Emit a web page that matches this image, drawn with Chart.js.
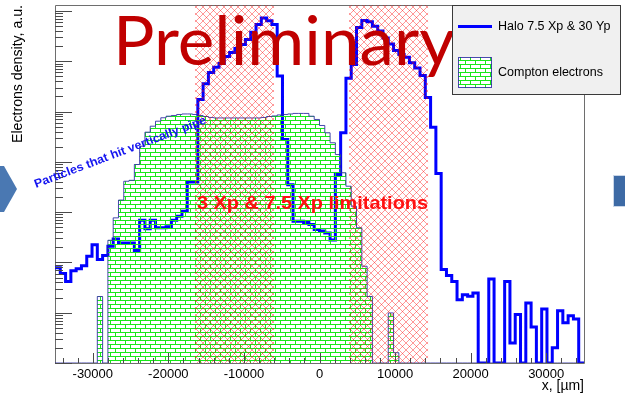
<!DOCTYPE html>
<html>
<head>
<meta charset="utf-8">
<script src="https://cdn.jsdelivr.net/npm/chart.js@4/dist/chart.umd.min.js"></script>
<style>
  html, body { margin: 0; padding: 0; background: #ffffff; }
  #wrap { position: relative; width: 625px; height: 395px; }
</style>
</head>
<body>
<div id="wrap"><canvas id="c" width="625" height="395"></canvas></div>
<script>
// Histogram definition: 100 bins of 700 um between -35000 and 35000 um
const histRange = [-35000, 35000];

// Halo 7.5 Xp & 30 Yp, electrons per bin (a.u.)
const haloCounts = [
  78, 60, 42, 68, 75, 86, 133, 226, 114, 137,
  210, 294, 245, 245, 245, 172, 690, 470, 690, 490,
  490, 510, 690, 830, 1040, 4000, 4000, 175000, 360000, 600000,
  760000, 910000, 1250000, 1500000, 1800000, 2170000, 2730000, 3770000, 5400000, 7300000,
  6400000, 5400000, 510000, 28000, 3500, 660, 660, 620, 567, 451,
  421, 387, 279, 5600, 38000, 460000, 870000, 4700000, 6500000, 6100000,
  5000000, 4000000, 2900000, 2200000, 1650000, 1370000, 1200000, 940000, 740000, 520000,
  190000, 49000, 5900, 72, 55, 42, 18.2, 22.9, 21.2, 24.8,
  0, 0, 47, 0, 0, 41.6, 2.5, 9.2, 0, 15.6,
  5.2, 0, 11.9, 0, 2.0, 11, 6.3, 8.7, 7.5, 0
];

// Compton electrons per bin (a.u.)
const comptonCounts = [
  0, 0, 0, 0, 0, 0, 0, 0, 21, 0,
  276, 771, 1740, 4120, 4300, 8870, 20500, 39000, 51300, 64500,
  75500, 81100, 83800, 87700, 89800, 89800, 87700, 83800, 80000, 76500,
  74800, 74800, 74800, 74800, 74800, 74800, 74800, 74800, 74800, 76500,
  80000, 82000, 86000, 87700, 89800, 92000, 92000, 92000, 81000, 69800,
  53000, 37900, 24000, 14000, 6070, 3280, 1310, 490, 84, 21,
  0, 0, 0, 9.9, 1.6, 0, 0, 0, 0, 0,
  0, 0, 0, 0, 0, 0, 0, 0, 0, 0,
  0, 0, 0, 0, 0, 0, 0, 0, 0, 0,
  0, 0, 0, 0, 0, 0, 0, 0, 0, 0
];

// Aperture limitation bands (um)
const limitStart = [-16500, 3900];
const limitEnd = [-6000, 14400];

// Axis settings
const xTickLabels = [-30000, -20000, -10000, 0, 10000, 20000, 30000];
const xMinorStep = 2000;
const yRange = [1, 1.32e7];

const legendLabels = ['Halo 7.5 Xp & 30 Yp', 'Compton electrons'];

// ---------- fill patterns ----------
function brickPattern(ctx) {
  const t = document.createElement('canvas');
  t.width = 10; t.height = 8;
  const g = t.getContext('2d');
  g.strokeStyle = '#18e818';
  g.lineWidth = 1;
  g.beginPath();
  g.moveTo(0, 0.5); g.lineTo(10, 0.5);
  g.moveTo(0, 4.5); g.lineTo(10, 4.5);
  g.moveTo(0.5, 0); g.lineTo(0.5, 4.5);
  g.moveTo(5.5, 4.5); g.lineTo(5.5, 8);
  g.stroke();
  return ctx.createPattern(t, 'repeat');
}

function hatchPattern(ctx) {
  const t = document.createElement('canvas');
  t.width = 7; t.height = 7;
  const g = t.getContext('2d');
  g.strokeStyle = 'rgba(255,0,0,0.5)';
  g.lineWidth = 0.8;
  g.beginPath();
  g.moveTo(-1, -1); g.lineTo(8, 8);
  g.moveTo(-1, 8); g.lineTo(8, -1);
  g.stroke();
  return ctx.createPattern(t, 'repeat');
}

// histogram bins -> step points at the low edge of every bin
function stepPoints(counts) {
  const w = (histRange[1] - histRange[0]) / counts.length;
  const pts = counts.map((v, i) => ({ x: histRange[0] + i * w, y: Math.max(v, yRange[0]) }));
  pts.push({ x: histRange[1], y: pts[pts.length - 1].y });
  return pts;
}

const canvas = document.getElementById('c');
const ctx2d = canvas.getContext('2d');
const bricks = brickPattern(ctx2d);
const hatch = hatchPattern(ctx2d);

const bandSets = limitStart.map((s, i) => ({
  label: 'limit' + i,
  data: [{ x: s, y: yRange[1] }, { x: limitEnd[i], y: yRange[1] }],
  borderWidth: 0,
  borderColor: 'rgba(0,0,0,0)',
  backgroundColor: hatch,
  fill: 'start',
  pointRadius: 0,
  order: 0
}));

// text fitted to a given width
function fitText(ctx, text, x, y, width, angle) {
  const w = ctx.measureText(text).width;
  ctx.save();
  ctx.translate(x, y);
  if (angle) ctx.rotate(angle);
  ctx.scale(width / w, 1);
  ctx.fillText(text, 0, 0);
  ctx.restore();
}

const rootStyle = {
  id: 'rootStyle',
  beforeDatasetsDraw(chart) {
    const ctx = chart.ctx;
    const a = chart.chartArea;
    ctx.save();
    ctx.strokeStyle = '#6e6e6e';
    ctx.lineWidth = 1;
    ctx.beginPath();
    ctx.moveTo(a.left + 0.5, a.bottom + 0.5);
    ctx.lineTo(a.left + 0.5, a.top + 0.5);
    ctx.lineTo(a.right + 0.5, a.top + 0.5);
    ctx.lineTo(a.right + 0.5, a.bottom + 0.5);
    ctx.lineTo(a.left + 0.5, a.bottom + 0.5);
    ctx.stroke();
    ctx.restore();
  },
  afterDatasetsDraw(chart) {
    const ctx = chart.ctx;
    const a = chart.chartArea;
    const xs = chart.scales.x;
    const ys = chart.scales.y;
    ctx.save();
    // x ticks
    ctx.strokeStyle = '#4a4a4a';
    ctx.lineWidth = 1;
    ctx.beginPath();
    for (let v = -34000; v <= 34000; v += xMinorStep) {
      const px = Math.round(xs.getPixelForValue(v)) + 0.5;
      const len = (v % 10000 === 0) ? 10 : 5;
      ctx.moveTo(px, a.bottom);
      ctx.lineTo(px, a.bottom - len);
    }
    // y ticks (log decades with 2..9 subdivisions)
    for (let d = yRange[0]; d <= yRange[1]; d *= 10) {
      for (let k = 1; k <= 9; k++) {
        const v = d * k;
        if (v > yRange[1]) break;
        const py = Math.round(ys.getPixelForValue(v)) + 0.5;
        if (py < a.top + 1) continue;
        const len = k === 1 ? 17 : 8;
        ctx.moveTo(a.left, py);
        ctx.lineTo(a.left + len, py);
      }
    }
    ctx.stroke();

    // tick labels
    ctx.fillStyle = '#000000';
    ctx.font = '13px "Liberation Sans", Arial, sans-serif';
    ctx.textAlign = 'center';
    ctx.textBaseline = 'alphabetic';
    xTickLabels.forEach(v => {
      ctx.fillText(String(v), xs.getPixelForValue(v), 378);
    });

    // axis titles
    ctx.font = '14px "Liberation Sans", Arial, sans-serif';
    ctx.textAlign = 'right';
    ctx.fillText('x, [\u00b5m]', 584, 390);

    ctx.save();
    ctx.font = '14px "Liberation Sans", Arial, sans-serif';
    const yTitle = 'Electrons density, a.u.';
    const tw = ctx.measureText(yTitle).width;
    ctx.translate(22, 5 + 138);
    ctx.rotate(-Math.PI / 2);
    ctx.scale(138 / tw, 1);
    ctx.textAlign = 'left';
    ctx.fillText(yTitle, 0, 0);
    ctx.restore();

    // annotations
    ctx.textAlign = 'left';
    ctx.fillStyle = '#c00000';
    ctx.font = '400 68px Lato, "Open Sans", sans-serif';
    fitText(ctx, 'Preliminary', 113, 65, 342, 0);

    ctx.fillStyle = '#1414f0';
    ctx.font = 'bold 12px "Liberation Sans", Arial, sans-serif';
    fitText(ctx, 'Particles that hit vertically pipe', 36, 188, 183, -20.8 * Math.PI / 180);

    ctx.fillStyle = '#ff1010';
    ctx.font = 'bold 19px "Liberation Sans", Arial, sans-serif';
    fitText(ctx, '3 Xp & 7.5 Xp limitations', 197, 209, 231, 0);
    ctx.restore();
  },
  afterDraw(chart) {
    const ctx = chart.ctx;
    ctx.save();
    // legend
    ctx.fillStyle = '#f0f0f0';
    ctx.fillRect(452, 5, 169, 90);
    ctx.strokeStyle = '#3a3a3a';
    ctx.lineWidth = 1;
    ctx.strokeRect(452.5, 5.5, 168, 89);

    ctx.strokeStyle = '#0000ff';
    ctx.lineWidth = 3;
    ctx.beginPath();
    ctx.moveTo(458, 26.5);
    ctx.lineTo(492, 26.5);
    ctx.stroke();

    ctx.fillStyle = '#ffffff';
    ctx.fillRect(458, 57, 34, 31);
    ctx.fillStyle = bricks;
    ctx.fillRect(458, 57, 34, 31);
    ctx.strokeStyle = 'rgba(40,40,160,0.85)';
    ctx.lineWidth = 1;
    ctx.strokeRect(458.5, 57.5, 33, 30);

    ctx.fillStyle = '#000000';
    ctx.font = '12.5px "Liberation Sans", Arial, sans-serif';
    ctx.textAlign = 'left';
    ctx.textBaseline = 'middle';
    ctx.fillText(legendLabels[0], 498, 27);
    ctx.fillText(legendLabels[1], 498, 73);

    // slide navigation marks at the edges
    ctx.fillStyle = '#4a78b2';
    ctx.beginPath();
    ctx.moveTo(0, 166);
    ctx.lineTo(4, 166);
    ctx.lineTo(17, 189);
    ctx.lineTo(4, 212);
    ctx.lineTo(0, 212);
    ctx.closePath();
    ctx.fill();
    ctx.fillStyle = '#3d6aa5';
    ctx.fillRect(614, 176, 11, 30);
    ctx.strokeStyle = '#c9d6e8';
    ctx.strokeRect(613.5, 175.5, 12, 31);
    ctx.restore();
  }
};

new Chart(ctx2d, {
  type: 'line',
  data: {
    datasets: [
      ...bandSets,
      {
        label: 'Compton electrons',
        data: stepPoints(comptonCounts),
        stepped: 'before',
        borderColor: 'rgba(40,40,160,0.85)',
        borderWidth: 1,
        backgroundColor: bricks,
        fill: 'start',
        pointRadius: 0,
        order: 1
      },
      {
        label: 'Halo 7.5 Xp & 30 Yp',
        data: stepPoints(haloCounts),
        stepped: 'before',
        borderColor: '#0000ff',
        borderWidth: 3,
        fill: false,
        pointRadius: 0,
        order: 2
      }
    ]
  },
  options: {
    responsive: false,
    animation: false,
    devicePixelRatio: 1,
    events: [],
    layout: { padding: { left: 55, top: 5, right: 41, bottom: 32 } },
    plugins: { legend: { display: false }, tooltip: { enabled: false } },
    scales: {
      x: { type: 'linear', min: histRange[0], max: histRange[1], display: false },
      y: { type: 'logarithmic', min: yRange[0], max: yRange[1], display: false }
    }
  },
  plugins: [rootStyle]
});
</script>
</body>
</html>
